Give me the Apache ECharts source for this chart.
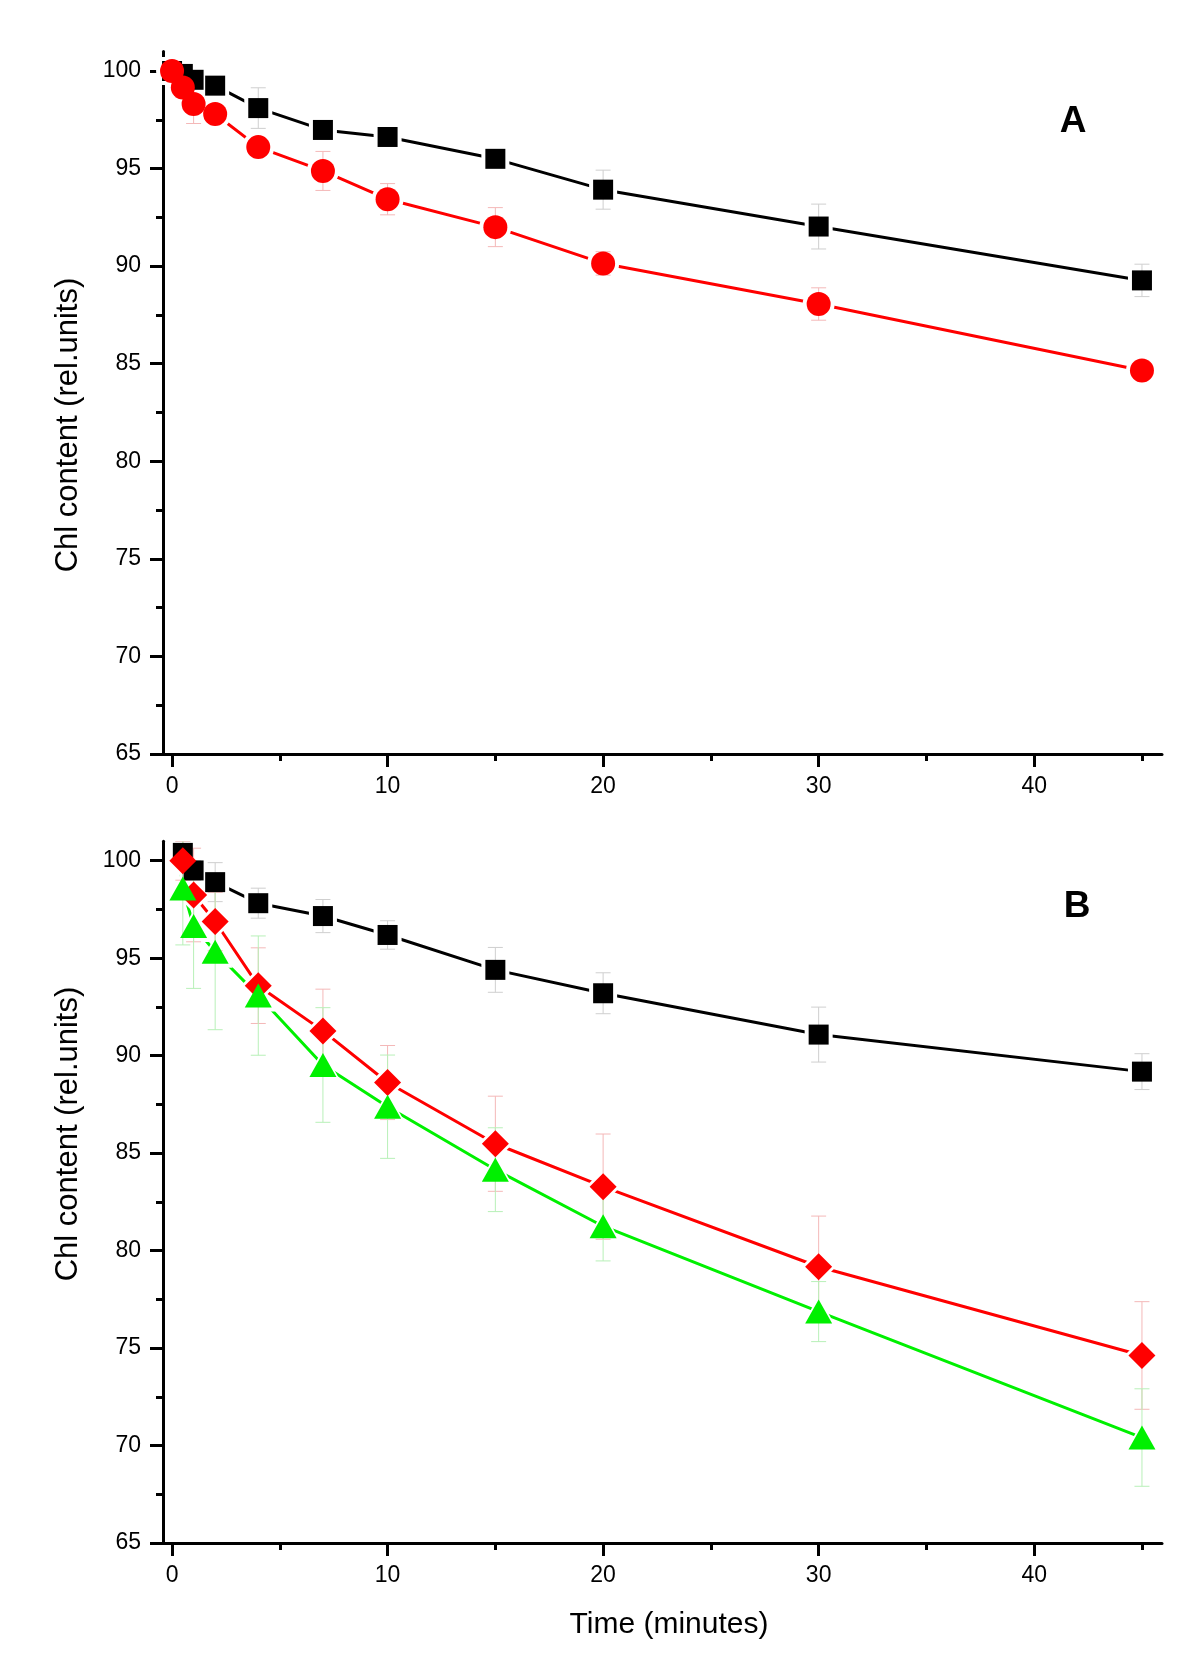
<!DOCTYPE html>
<html><head><meta charset="utf-8">
<script src="https://cdn.jsdelivr.net/npm/echarts@6/dist/echarts.min.js"></script>
<style>html,body{margin:0;padding:0;background:#fff}#c{width:1200px;height:1667px}</style>
</head><body><div id="c"></div>
<script>
// ---- data ----
const timeA = [0, 0.5, 1, 2, 4, 7, 10, 15, 20, 30, 45];
const blackA = [100, 99.85, 99.55, 99.25, 98.1, 96.98, 96.62, 95.5, 93.92, 92.03, 89.27];
const errBlackA = [0, 0.3, 0.4, 0.4, 1.04, 0.3, 0.4, 0.4, 1.0, 1.15, 0.83];
const redA = [100, 99.15, 98.31, 97.8, 96.1, 94.88, 93.43, 92.0, 90.14, 88.06, 84.65];
const errRedA = [0, 0.5, 1.0, 0.4, 0.4, 1.0, 0.8, 1.0, 0.6, 0.83, 0.3];

const timeB = [0, 0.5, 1, 2, 4, 7, 10, 15, 20, 30, 45];
const blackB = [null, 100.4, 99.5, 98.9, 97.82, 97.16, 96.19, 94.4, 93.2, 91.08, 89.18];
const errBlackB = [0, 0.6, 0.5, 1.0, 0.77, 0.85, 0.73, 1.15, 1.05, 1.41, 0.92];
const redB = [null, 100.0, 98.24, 96.88, 93.59, 91.27, 88.62, 85.48, 83.28, 79.17, 74.62];
const errRedB = [0, 1.0, 2.4, 1.5, 1.94, 2.14, 1.9, 2.44, 2.7, 2.6, 2.76];
const greenB = [103.2, 98.58, 96.65, 95.33, 93.08, 89.52, 87.38, 84.15, 81.25, 76.87, 70.41];
const errGreenB = [0, 2.9, 3.2, 4.0, 3.06, 2.94, 2.65, 2.15, 1.78, 1.54, 2.5];

const xMajorTicks = [0, 10, 20, 30, 40];
const xMinorTicks = [5, 15, 25, 35, 45];
const yMajorTicks = [65, 70, 75, 80, 85, 90, 95, 100];
const yMinorTicks = [67.5, 72.5, 77.5, 82.5, 87.5, 92.5, 97.5];

const yTitle = 'Chl content (rel.units)';
const xTitle = 'Time (minutes)';
const panelLabels = ['A', 'B'];

// ---- chart ----
const FONT = '"Liberation Sans", Arial, sans-serif';
const X_MIN = -0.42, X_MAX = 45.93, Y_MIN = 65, Y_MAX = 101;
const TICK_FONT = 23;

function xAxes(g) {
  return [
    { type: 'value', gridIndex: g, position: 'bottom', min: X_MIN, max: X_MAX,
      axisLine: { show: true, onZero: false, lineStyle: { color: '#000', width: 3 } },
      axisTick: { show: true, length: 13, customValues: xMajorTicks, lineStyle: { color: '#000', width: 3 } },
      axisLabel: { show: true, customValues: xMajorTicks, margin: 21, fontSize: TICK_FONT, color: '#000', fontFamily: FONT },
      splitLine: { show: false } },
    { type: 'value', gridIndex: g, position: 'bottom', min: X_MIN, max: X_MAX,
      axisLine: { show: false, onZero: false },
      axisTick: { show: true, length: 7, customValues: xMinorTicks, lineStyle: { color: '#000', width: 3 } },
      axisLabel: { show: false }, splitLine: { show: false } }
  ];
}
function yAxes(g) {
  return [
    { type: 'value', gridIndex: g, position: 'left', min: Y_MIN, max: Y_MAX,
      axisLine: { show: true, onZero: false, lineStyle: { color: '#000', width: 3 } },
      axisTick: { show: true, length: 13, customValues: yMajorTicks, lineStyle: { color: '#000', width: 3 } },
      axisLabel: { show: true, customValues: yMajorTicks, margin: 22, fontSize: TICK_FONT, color: '#000', fontFamily: FONT },
      splitLine: { show: false } },
    { type: 'value', gridIndex: g, position: 'left', min: Y_MIN, max: Y_MAX,
      axisLine: { show: false, onZero: false },
      axisTick: { show: true, length: 7, customValues: yMinorTicks, lineStyle: { color: '#000', width: 3 } },
      axisLabel: { show: false }, splitLine: { show: false } }
  ];
}

function pts(times, vals) {
  return times.map((t, i) => [t, vals[i]]).filter(d => d[1] != null);
}

function seriesGroup(times, vals, errs, color, errColor, symbol, size, haloSize, ax) {
  const data = pts(times, vals);
  const edata = times.map((t, i) => [t, vals[i], errs[i]]).filter(d => d[1] != null && d[2] > 0);
  return [
    { type: 'line', xAxisIndex: ax, yAxisIndex: ax, data: data, showSymbol: false, symbol: 'none',
      lineStyle: { color: color, width: 3, opacity: 1 }, z: 2, silent: true, animation: false, clip: true },
    { type: 'scatter', xAxisIndex: ax, yAxisIndex: ax, data: data, symbol: symbol, symbolSize: haloSize,
      itemStyle: { color: '#fff', opacity: 1 }, z: 3, silent: true, animation: false, clip: true },
    { type: 'custom', xAxisIndex: ax, yAxisIndex: ax, data: edata, z: 4, silent: true, animation: false, clip: true,
      encode: { x: 0, y: 1 },
      renderItem: function (params, api) {
        const x = api.value(0), y = api.value(1), e = api.value(2);
        const top = api.coord([x, y + e]), bot = api.coord([x, y - e]);
        const w = 7.5;
        const st = { stroke: errColor, lineWidth: 1 };
        return { type: 'group', children: [
          { type: 'line', shape: { x1: top[0], y1: top[1], x2: bot[0], y2: bot[1] }, style: st },
          { type: 'line', shape: { x1: top[0] - w, y1: top[1], x2: top[0] + w, y2: top[1] }, style: st },
          { type: 'line', shape: { x1: bot[0] - w, y1: bot[1], x2: bot[0] + w, y2: bot[1] }, style: st }
        ] };
      } },
    { type: 'scatter', xAxisIndex: ax, yAxisIndex: ax, data: data, symbol: symbol, symbolSize: size,
      itemStyle: { color: color, opacity: 1 }, z: 5, silent: true, animation: false, clip: true }
  ];
}

const BLACK = '#000000', RED = '#ff0000', GREEN = '#00f000';
const series = [].concat(
  seriesGroup(timeA, blackA, errBlackA, BLACK, '#cfcfcf', 'rect', 20, 28, 0),
  seriesGroup(timeA, redA, errRedA, RED, '#f4b8b8', 'circle', 24, 32, 0),
  seriesGroup(timeB, blackB, errBlackB, BLACK, '#cfcfcf', 'rect', 20, 28, 2),
  seriesGroup(timeB, redB, errRedB, RED, '#f4b8b8', 'diamond', 27, 35, 2),
  seriesGroup(timeB, greenB, errGreenB, GREEN, '#b8f0b8', 'triangle', [27, 24], [35, 32], 2)
);

const option = {
  backgroundColor: '#fff',
  animation: false,
  grid: [
    { left: 163, top: 51.5, width: 999, height: 702.5 },
    { left: 163, top: 841.2, width: 999, height: 701.8 }
  ],
  xAxis: [].concat(xAxes(0), xAxes(1)),
  yAxis: [].concat(yAxes(0), yAxes(1)),
  series: series,
  graphic: [
    { type: 'text', x: 68, y: 425, rotation: Math.PI / 2,
      style: { text: yTitle, fontSize: 31, fontFamily: FONT, fill: '#000', align: 'center', verticalAlign: 'middle' } },
    { type: 'text', x: 68, y: 1134, rotation: Math.PI / 2,
      style: { text: yTitle, fontSize: 31, fontFamily: FONT, fill: '#000', align: 'center', verticalAlign: 'middle' } },
    { type: 'text', x: 669, y: 1625,
      style: { text: xTitle, fontSize: 30, fontFamily: FONT, fill: '#000', align: 'center', verticalAlign: 'middle' } },
    { type: 'text', x: 1073, y: 122,
      style: { text: panelLabels[0], fontSize: 37, fontWeight: 'bold', fontFamily: FONT, fill: '#000', align: 'center', verticalAlign: 'middle' } },
    { type: 'text', x: 1077, y: 907,
      style: { text: panelLabels[1], fontSize: 37, fontWeight: 'bold', fontFamily: FONT, fill: '#000', align: 'center', verticalAlign: 'middle' } }
  ]
};
const chart = echarts.init(document.getElementById('c'));
chart.setOption(option);
</script>
</body></html>
